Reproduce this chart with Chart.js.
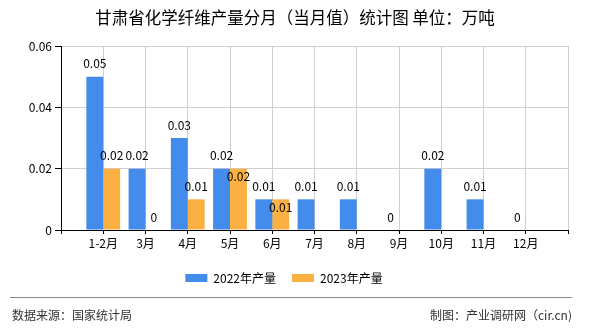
<!DOCTYPE html>
<html>
<head>
<meta charset="utf-8">
<script src="https://cdn.jsdelivr.net/npm/chart.js@4"></script>
<style>
  body { margin: 0; background: #fff; }
  #wrap { position: relative; width: 590px; height: 330px; font-family: "Noto Sans CJK SC", sans-serif; }
  #chart-wrap { position: absolute; left: 0; top: 0; width: 590px; height: 330px; }
  .titulo { position: absolute; left: 0; top: 6px; width: 590px; text-align: center; font-size: 16.5px; line-height: 22px; color: #000; }
  .linha { position: absolute; left: 10px; top: 297px; width: 562px; height: 0; border-top: 1px solid #888; }
  .fonte { position: absolute; left: 12px; top: 306px; font-size: 12px; line-height: 18px; color: #333; }
  .credito { position: absolute; right: 18px; top: 306px; font-size: 12px; line-height: 18px; color: #333; }
</style>
</head>
<body>
<div id="wrap">
  <div id="chart-wrap"><canvas id="chart-producao"></canvas></div>
  <div class="titulo">甘肃省化学纤维产量分月（当月值）统计图&nbsp;单位：万吨</div>
  <div class="linha"></div>
  <div class="fonte">数据来源：国家统计局</div>
  <div class="credito">制图：产业调研网（cir.cn)</div>
</div>
<script>
const meses = ["1-2月", "3月", "4月", "5月", "6月", "7月", "8月", "9月", "10月", "11月", "12月"];
const producao2022 = [0.05, 0.02, 0.03, 0.02, 0.01, 0.01, 0.01, 0, 0.02, 0.01, 0];
const producao2023 = [0.02, 0, 0.01, 0.02, 0.01, null, null, null, null, null, null];
const ticksY = [0, 0.02, 0.04, 0.06];

const corAzul = "#438CEB";
const corLaranja = "#FBB142";
const corGrade = "#cfcfcf";

Chart.defaults.font.family = '"Noto Sans CJK SC", sans-serif';
Chart.defaults.font.size = 12;
Chart.defaults.color = "#000";

// empty slot at each end so the months sit on the grid lines
const rotulos = ["", ...meses, ""];
const comBorda = (arr) => [null, ...arr, null];

// value labels above the bars, pushed inside the bar when they hit the neighbour
const rotulosValor = {
  id: "rotulosValor",
  afterDatasetsDraw(chart) {
    const ctx = chart.ctx;
    ctx.save();
    ctx.font = '12px "Noto Sans CJK SC", sans-serif';
    ctx.fillStyle = "#000";
    ctx.textAlign = "center";
    ctx.textBaseline = "middle";
    const usados = {};
    chart.data.datasets.forEach((ds, d) => {
      const meta = chart.getDatasetMeta(d);
      meta.data.forEach((el, i) => {
        const v = ds.data[i];
        if (v === null || v === undefined) return;
        let y = el.y - 13;
        if (usados[i] !== undefined && Math.abs(usados[i] - y) < 14) {
          y = el.y + 8;
        }
        usados[i] = y;
        ctx.fillText(String(v), el.x, y);
      });
    });
    ctx.restore();
  }
};

const chartProducao = new Chart(document.getElementById("chart-producao"), {
  type: "bar",
  data: {
    labels: rotulos,
    datasets: [
      {
        label: "2022年产量",
        data: comBorda(producao2022),
        backgroundColor: corAzul,
        categoryPercentage: 0.8,
        barPercentage: 1.0
      },
      {
        label: "2023年产量",
        data: comBorda(producao2023),
        backgroundColor: corLaranja,
        categoryPercentage: 0.8,
        barPercentage: 1.0
      }
    ]
  },
  plugins: [rotulosValor],
  options: {
    responsive: true,
    maintainAspectRatio: false,
    animation: false,
    events: [],
    layout: {
      padding: { top: 46, right: 22, left: 0, bottom: 36 }
    },
    plugins: {
      title: { display: false },
      tooltip: { enabled: false },
      legend: {
        display: true,
        position: "bottom",
        labels: {
          boxWidth: 22,
          boxHeight: 8,
          padding: 16,
          color: "#000",
          font: { size: 12 }
        }
      }
    },
    scales: {
      x: {
        type: "category",
        offset: false,
        grid: {
          offset: false,
          color: corGrade,
          tickColor: "#000",
          tickLength: 4,
          drawTicks: true
        },
        border: { color: "#000" },
        ticks: {
          autoSkip: false,
          maxRotation: 0,
          padding: 2,
          color: "#000"
        },
        afterFit(scale) { scale.height = 26; }
      },
      y: {
        min: 0,
        max: 0.06,
        grid: {
          color: corGrade,
          tickColor: "#000",
          tickLength: 6
        },
        border: { color: "#000" },
        ticks: {
          stepSize: 0.02,
          padding: 3,
          color: "#000",
          callback: (v) => String(+v.toFixed(2))
        },
        afterBuildTicks(scale) {
          scale.ticks = ticksY.map(v => ({ value: v }));
        },
        afterFit(scale) { scale.width = 61; }
      }
    }
  }
});
</script>
</body>
</html>
